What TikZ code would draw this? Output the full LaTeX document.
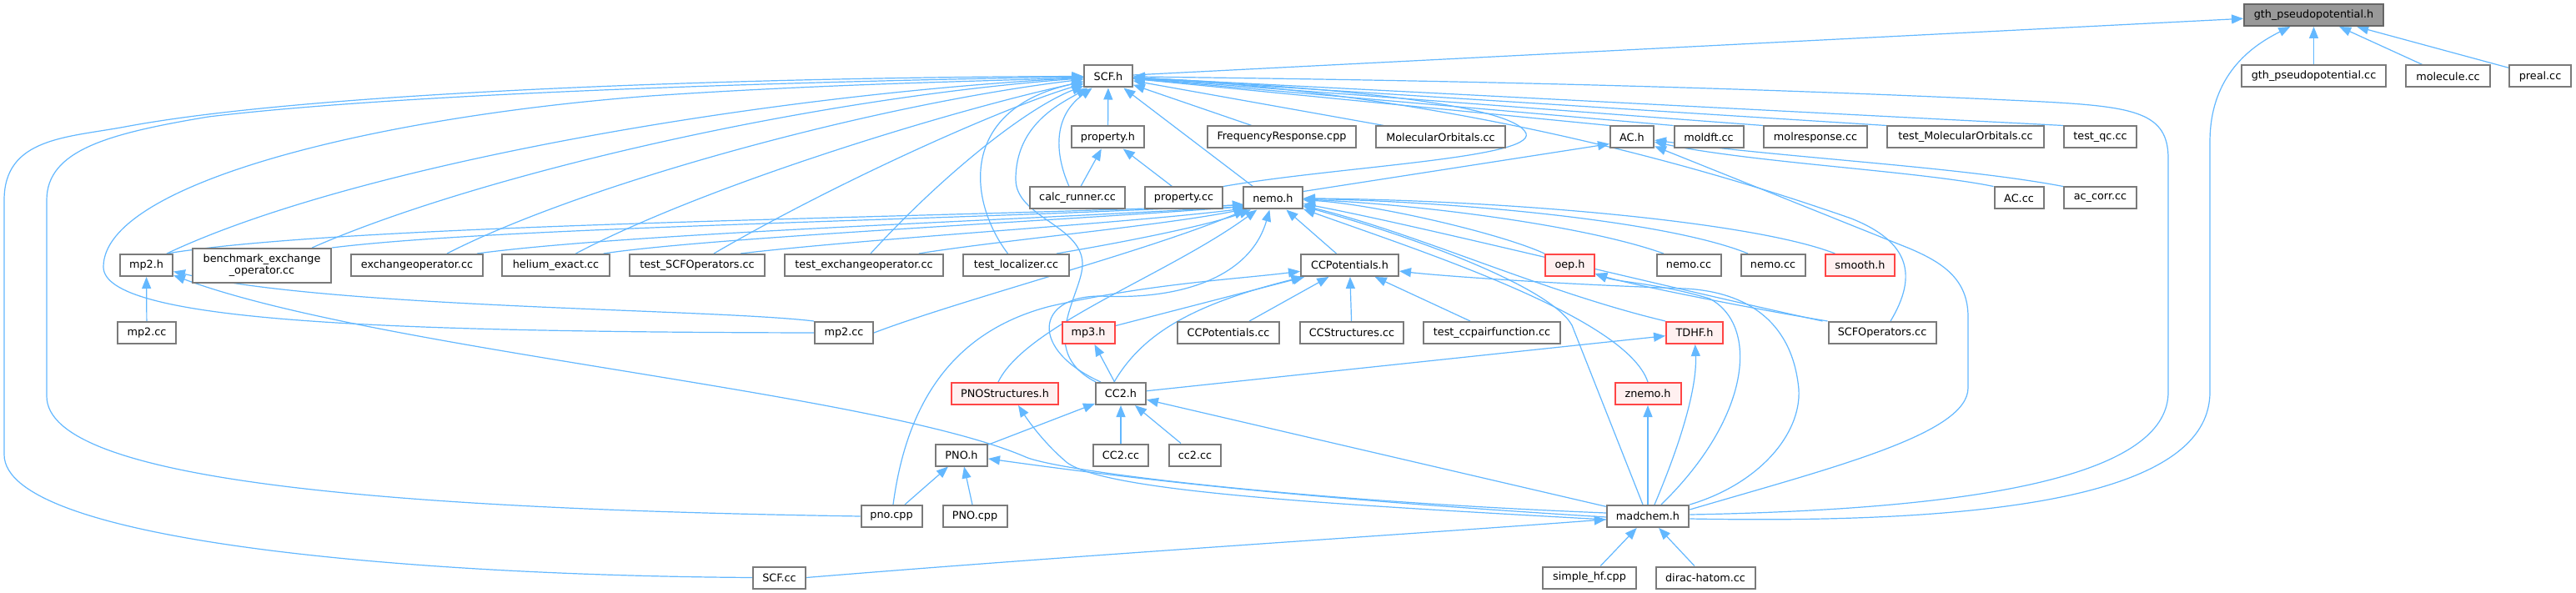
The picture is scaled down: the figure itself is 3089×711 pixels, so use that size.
\documentclass[tikz,border=0pt]{standalone}
\usepackage{fontspec}
\newfontfamily\dv{DejaVu Sans}
\usetikzlibrary{arrows.meta}
\definecolor{edgeblue}{HTML}{63B8FF}
\definecolor{boxgray}{HTML}{7A7A7A}
\definecolor{redb}{HTML}{FF4545}
\definecolor{redf}{HTML}{FFF0F0}
\definecolor{rootf}{HTML}{999999}
\definecolor{rootb}{HTML}{666666}
\pgfdeclarelayer{bg}
\pgfsetlayers{bg,main}
\tikzset{
  box/.style={draw=boxgray, line width=1pt, fill=white, minimum height=13pt, inner sep=0.5pt,
    font=\dv\fontsize{6.4pt}{7pt}\selectfont, align=center},
  redbox/.style={box, draw=redb, fill=redf},
  rootbox/.style={box, draw=rootb, fill=rootf},
  edge/.style={draw=edgeblue, line width=0.6pt, -{Triangle[length=7pt,width=5.5pt]}},
}
\begin{document}
\begin{tikzpicture}[x=0.5pt,y=-0.5pt]
\useasboundingbox (0,0) rectangle (3089,711);
% row 1
\node[rootbox, minimum width=83.5pt] (gth) at (2774.5,18) {gth\_pseudopotential.h};
% row 2
\node[box, minimum width=28.75pt] (scfh) at (1329,91.5) {SCF.h};
\node[box, minimum width=86.5pt] (gthcc) at (2774.5,91.5) {gth\_pseudopotential.cc};
\node[box, minimum width=50.5pt] (molecule) at (2935.5,91.5) {molecule.cc};
\node[box, minimum width=36.75pt] (preal) at (3046,91.5) {preal.cc};
% row 3
\node[box, minimum width=43.5pt] (propertyh) at (1328.5,164.5) {property.h};
\node[box, minimum width=89.3pt] (freq) at (1537,164.5) {FrequencyResponse.cpp};
\node[box, minimum width=77.5pt] (molorb) at (1727.5,164.5) {MolecularOrbitals.cc};
\node[box, minimum width=26pt] (ach) at (1957,164.5) {AC.h};
\node[box, minimum width=41.5pt] (moldft) at (2049,164.5) {moldft.cc};
\node[box, minimum width=62pt] (molresp) at (2177,164.5) {molresponse.cc};
\node[box, minimum width=93.8pt] (testmo) at (2357,164.5) {test\_MolecularOrbitals.cc};
\node[box, minimum width=43.5pt] (testqc) at (2518.5,164.5) {test\_qc.cc};
% row 4
\node[box, minimum width=57.2pt] (calc) at (1292,237.5) {calc\_runner.cc};
\node[box, minimum width=46.5pt] (propcc) at (1419.5,237.5) {property.cc};
\node[box, minimum width=35.5pt] (nemoh) at (1526.4,237.5) {nemo.h};
\node[box, minimum width=29.5pt] (accc) at (2421,237.5) {AC.cc};
\node[box, minimum width=43.5pt] (accorr) at (2518.5,237.5) {ac\_corr.cc};
% row 5
\node[box, minimum width=31.5pt] (mp2h) at (175.5,318) {mp2.h};
\node[box, minimum width=83.25pt, minimum height=20.5pt] (bench) at (314,318.5) {benchmark\_exchange\\\_operator.cc};
\node[box, minimum width=79pt] (exch) at (500,318) {exchangeoperator.cc};
\node[box, minimum width=64.15pt] (helium) at (666.5,318) {helium\_exact.cc};
\node[box, minimum width=80.85pt] (testscfop) at (836,318) {test\_SCFOperators.cc};
\node[box, minimum width=94.8pt] (testexch) at (1036,318) {test\_exchangeoperator.cc};
\node[box, minimum width=63.5pt] (testloc) at (1218.5,318) {test\_localizer.cc};
\node[box, minimum width=58.5pt] (ccpoth) at (1618.5,318) {CCPotentials.h};
\node[redbox, minimum width=29.5pt] (oeph) at (1882.5,318) {oep.h};
\node[box, minimum width=38.5pt] (nemocca) at (2025,318) {nemo.cc};
\node[box, minimum width=38.5pt] (nemoccb) at (2126,318) {nemo.cc};
\node[redbox, minimum width=41.5pt] (smooth) at (2230.5,318) {smooth.h};
% row 6
\node[box, minimum width=35pt] (mp2cca) at (176,399) {mp2.cc};
\node[box, minimum width=35pt] (mp2ccb) at (1012,399) {mp2.cc};
\node[redbox, minimum width=31.5pt] (mp3h) at (1305,399) {mp3.h};
\node[box, minimum width=61.3pt] (ccpotcc) at (1473,399) {CCPotentials.cc};
\node[box, minimum width=62pt] (ccstruct) at (1621,399) {CCStructures.cc};
\node[box, minimum width=82pt] (testccpair) at (1789,399) {test\_ccpairfunction.cc};
\node[redbox, minimum width=34pt] (tdhf) at (2032,399) {TDHF.h};
\node[box, minimum width=64.5pt] (scfopcc) at (2257,399) {SCFOperators.cc};
% row 7
\node[redbox, minimum width=64pt] (pnostruct) at (1205,472) {PNOStructures.h};
\node[box, minimum width=30pt] (cc2h) at (1344,472) {CC2.h};
\node[redbox, minimum width=39.5pt] (znemo) at (1976,472) {znemo.h};
% row 8
\node[box, minimum width=31pt] (pnoh) at (1153,545.5) {PNO.h};
\node[box, minimum width=33pt] (cc2cca) at (1344,545.5) {CC2.cc};
\node[box, minimum width=31.3pt] (cc2ccb) at (1433,545.5) {cc2.cc};
% row 9
\node[box, minimum width=36.5pt] (pnocpp) at (1069,619) {pno.cpp};
\node[box, minimum width=38.5pt] (pnocppb) at (1169,619) {PNO.cpp};
\node[box, minimum width=49.25pt] (madchem) at (1976,619) {madchem.h};
% row 10
\node[box, minimum width=31.5pt] (scfcc) at (934.5,692.5) {SCF.cc};
\node[box, minimum width=56pt] (simplehf) at (1906,692.5) {simple\_hf.cpp};
\node[box, minimum width=59.5pt] (dirac) at (2045,692.5) {dirac-hatom.cc};

\begin{pgfonlayer}{bg}
\fill[white] (0,0) rectangle (3089,711);
% ---- edges to gth_pseudopotential.h
\draw[edge] (scfh) -- (gth);
\draw[edge] (gthcc) -- (gth);
\draw[edge] (molecule) -- (gth);
\draw[edge] (preal) -- (gth);
\draw[edge] ([yshift=-1.5pt]madchem.east) .. controls (2450,630) and (2650,580) .. (2650,470) -- (2650,170) .. controls (2650,90) and (2700,55) .. (gth);

% ---- edges to SCF.h (left)
\draw[edge] (scfcc.west) .. controls (500,690) and (5,650) .. (5,545) -- (5,240) .. controls (5,165) and (80,165) .. (150,152) .. controls (400,105) and (1000,92) .. (scfh);
\draw[edge] (pnocpp.west) .. controls (450,610) and (56,575) .. (56,475) -- (56,240) .. controls (56,180) and (130,160) .. (250,140) .. controls (500,110) and (1000,97) .. (scfh);
\draw[edge] (mp2ccb.west) .. controls (450,398) and (124,385) .. (124,320) .. controls (124,220) and (450,140) .. (780,115) .. controls (1000,100) and (1200,97) .. (scfh);
\draw[edge] ([xshift=-4pt]mp2h.north east) .. controls (420,200) and (900,115) .. (scfh);
\draw[edge] ([xshift=-12pt]bench.north east) .. controls (560,215) and (950,120) .. (scfh);
\draw[edge] ([xshift=-22pt]exch.north east) .. controls (700,220) and (1050,125) .. (scfh);
\draw[edge] ([xshift=12pt]helium.north) .. controls (850,220) and (1150,130) .. (scfh);
\draw[edge] ([xshift=10pt]testscfop.north) .. controls (1000,220) and (1200,130) .. (scfh);
\draw[edge] ([xshift=4pt]testexch.north) .. controls (1130,210) and (1230,130) .. (scfh);
\draw[edge] ([xshift=-5pt]testloc.north) .. controls (1160,240) and (1150,130) .. (scfh);
\draw[edge] ([xshift=-15pt]cc2h.north) .. controls (1240,420) and (1300,350) .. (1298,315) .. controls (1296,270) and (1218,260) .. (1218,215) .. controls (1218,150) and (1270,125) .. (scfh);
\draw[edge] ([xshift=-5pt]calc.north) .. controls (1265,185) and (1262,140) .. (scfh);
\draw[edge] (propertyh) -- (scfh);
\draw[edge] ([xshift=-12pt]nemoh.north) -- (scfh);
% ---- edges to SCF.h (right)
\draw[edge] ([xshift=-18pt]freq.north) -- (scfh);
\draw[edge] ([xshift=-34pt]molorb.north) -- (scfh);
\draw[edge] (ach.north west) -- (scfh);
\draw[edge] (moldft.north west) -- (scfh);
\draw[edge] (molresp.north west) -- (scfh);
\draw[edge] (testmo.north west) -- (scfh);
\draw[edge] (testqc.north west) -- (scfh);
\draw[edge] (propcc.north east) .. controls (1600,200) and (1840,190) .. (1830,160) .. controls (1815,125) and (1600,105) .. (scfh);
\draw[edge] ([xshift=5pt]scfopcc.north) .. controls (2300,330) and (2290,290) .. (2220,262) .. controls (1900,150) and (1600,105) .. (scfh);
\draw[edge] ([yshift=1pt]madchem.east) .. controls (2420,610) and (2600,560) .. (2600,470) -- (2600,190) .. controls (2600,135) and (2560,128) .. (2450,122) .. controls (2000,100) and (1600,95) .. (scfh);

% ---- property.h
\draw[edge] ([xshift=2pt]calc.north) -- (propertyh);
\draw[edge] ([xshift=-7pt]propcc.north) -- (propertyh);

% ---- nemo.h (from the left, below calc_runner.cc and property.cc)
\draw[edge] ([xshift=-4pt]mp2h.north east) .. controls (420,268) and (1100,262) .. ([xshift=1pt,yshift=3pt]nemoh.south west);
\draw[edge] (bench.north east) .. controls (600,272) and (1150,264) .. ([xshift=1pt,yshift=3pt]nemoh.south west);
\draw[edge] ([xshift=-4pt]exch.north east) .. controls (750,280) and (1200,265) .. ([xshift=2pt,yshift=2pt]nemoh.south west);
\draw[edge] ([xshift=-4pt]helium.north east) .. controls (850,285) and (1250,266) .. ([xshift=2pt,yshift=2pt]nemoh.south west);
\draw[edge] ([xshift=-15pt]testscfop.north east) .. controls (1050,285) and (1350,268) .. ([xshift=3pt,yshift=1pt]nemoh.south west);
\draw[edge] ([xshift=-15pt]testexch.north east) .. controls (1200,288) and (1400,270) .. ([xshift=4pt,yshift=1pt]nemoh.south west);
\draw[edge] ([xshift=-8pt]testloc.north east) .. controls (1350,290) and (1450,270) .. ([xshift=5pt]nemoh.south west);
\draw[edge] (mp2ccb.east) .. controls (1150,360) and (1380,300) .. (nemoh);
\draw[edge] ([xshift=-4pt]pnostruct.north) .. controls (1230,390) and (1400,330) .. (nemoh);
\draw[edge] ([xshift=-12pt]cc2h.north) .. controls (1235,420) and (1240,355) .. (1320,355) .. controls (1420,360) and (1500,330) .. (nemoh);
\draw[edge] (ccpoth) -- (nemoh);
\draw[edge] (oeph.north west) .. controls (1800,280) and (1650,245) .. (nemoh);
\draw[edge] ([xshift=-15pt]nemocca.north) .. controls (1900,270) and (1700,245) .. (nemoh);
\draw[edge] ([xshift=-15pt]nemoccb.north) .. controls (2000,265) and (1750,242) .. (nemoh);
\draw[edge] ([xshift=-15pt]smooth.north) .. controls (2100,265) and (1800,240) .. (nemoh);
\draw[edge] ([xshift=-3pt]scfopcc.north west) .. controls (2000,345) and (1700,270) .. (nemoh);
\draw[edge] (tdhf.north west) .. controls (1850,350) and (1700,280) .. (nemoh);
\draw[edge] (znemo.north) .. controls (1950,380) and (1700,300) .. (nemoh);
\draw[edge] ([xshift=-3pt]madchem.north) -- (1885,390) .. controls (1860,345) and (1700,285) .. (nemoh);

% ---- AC.h
\draw[edge] ([yshift=-3pt]nemoh.north east) -- ([yshift=3pt]ach.south west);
\draw[edge] (accc.north west) .. controls (2300,205) and (2100,195) .. (ach);
\draw[edge] (accorr.north west) .. controls (2350,200) and (2150,190) .. (ach);
\draw[edge] ([yshift=4pt]madchem.east) .. controls (2200,560) and (2360,520) .. (2360,465) -- (2360,380) .. controls (2360,335) and (2330,315) .. (2290,298) -- (ach);

% ---- mp2.h
\draw[edge] (mp2cca) -- (mp2h);
\draw[edge] (mp2ccb.north west) .. controls (850,370) and (400,370) .. (mp2h);
\draw[edge] ([yshift=2pt]madchem.west) .. controls (1550,600) and (1270,565) .. (1230,548) .. controls (1050,470) and (450,420) .. (mp2h);

% ---- CC2.h and friends
\draw[edge] (pnoh) -- (cc2h);
\draw[edge] (cc2cca) -- (cc2h);
\draw[edge] (cc2ccb) -- (cc2h);
\draw[edge] (madchem) -- (cc2h);
\draw[edge] (cc2h) -- (mp3h);
\draw[edge] (cc2h) -- (tdhf);

% ---- CCPotentials.h
\draw[edge] ([xshift=-4pt]cc2h.north) .. controls (1370,400) and (1430,365) .. (ccpoth);
\draw[edge] (mp3h) -- (ccpoth);
\draw[edge] ([xshift=1pt]pnocpp.north) .. controls (1085,500) and (1130,400) .. (1260,367) .. controls (1380,340) and (1480,335) .. (ccpoth);
\draw[edge] (ccpotcc) -- (ccpoth);
\draw[edge] (ccstruct) -- (ccpoth);
\draw[edge] ([xshift=-13pt]testccpair.north) -- (ccpoth);
\draw[edge] (madchem.north east) .. controls (2110,580) and (2160,520) .. (2157,467) .. controls (2150,390) and (2100,350) .. (2020,346) .. controls (1850,340) and (1720,330) .. (ccpoth);

% ---- oep.h, TDHF.h, znemo.h, PNOStructures.h, PNO.h
\draw[edge] (scfopcc.north west) .. controls (2100,370) and (1950,340) .. (oeph);
\draw[edge] ([xshift=8pt]madchem.north) .. controls (2100,500) and (2110,390) .. (2050,358) .. controls (1990,340) and (1940,338) .. (oeph);
\draw[edge] ([xshift=4pt]madchem.north) .. controls (2020,520) and (2035,460) .. (tdhf);
\draw[edge] (madchem) -- (znemo);
\draw[edge] ([yshift=-2pt]madchem.west) .. controls (1600,605) and (1330,590) .. (1280,555) .. controls (1250,530) and (1230,500) .. ([xshift=8pt]pnostruct.south);
\draw[edge] (pnocpp) -- (pnoh);
\draw[edge] (pnocppb) -- (pnoh);
\draw[edge] ([yshift=-0.5pt]madchem.west) .. controls (1600,600) and (1400,580) .. (pnoh);

% ---- madchem.h
\draw[edge] (simplehf) -- (madchem);
\draw[edge] (dirac) -- (madchem);
\draw[edge] (scfcc.east) .. controls (1300,665) and (1700,640) .. (madchem);
\end{pgfonlayer}
\end{tikzpicture}
\end{document}
